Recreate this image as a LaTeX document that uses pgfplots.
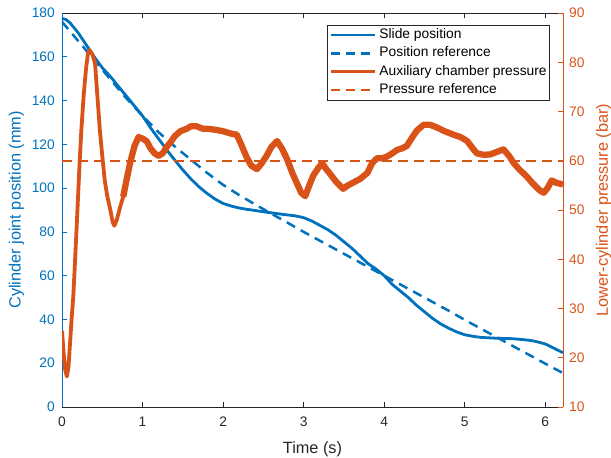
\documentclass[border=0pt]{standalone}
\usepackage{pgfplots}
\pgfplotsset{compat=1.18}
\usepackage{fontspec}
\setmainfont{Liberation Sans}
\definecolor{matblue}{RGB}{0,114,189}
\definecolor{matorange}{RGB}{217,83,25}
\definecolor{axgray}{RGB}{38,38,38}
\newcommand\ticfont{\fontsize{13.8bp}{16bp}\selectfont}
\newcommand\labfont{\fontsize{16.3bp}{19bp}\selectfont}
\begin{document}
\begin{tikzpicture}
\begin{axis}[
  name=ax1, scale only axis, width=501bp, height=394bp,
  xmin=0, xmax=6.22, ymin=0, ymax=180,
  xtick={0,1,2,3,4,5,6}, ytick={0,20,...,180},
  tick align=inside, major tick length=5bp,
  ytick pos=left,
  separate axis lines,
  x axis line style={draw=axgray, line width=0.6bp},
  y axis line style={draw=matblue, line width=0.6bp},
  x tick style={draw=axgray, line width=0.6bp},
  y tick style={draw=matblue, line width=0.6bp},
  xticklabel style={color=axgray, font=\ticfont, inner sep=0pt, anchor=north},
  yticklabel style={color=matblue, font=\ticfont, inner sep=0pt, anchor=east},
  xticklabel shift=10bp, yticklabel shift=7bp,
  /pgf/number format/assume math mode=true,
  xlabel={Time (s)},
  xlabel style={at={(axis description cs:0.5,-0.1168)}, anchor=base, color=axgray, font=\labfont, inner sep=0pt},
  ylabel={Cylinder joint position (mm)},
  ylabel style={at={(axis description cs:-0.0828,0.5)}, anchor=base, color=matblue, font=\labfont, inner sep=0pt},
]
\coordinate (bl) at (rel axis cs:0,0);
\coordinate (tr) at (rel axis cs:1,1);
% Position reference
\addplot[matblue, line width=2.5bp, dash pattern=on 9.5bp off 6.5bp] coordinates {
(0,176) (0.2,167.3) (0.4,158.5) (0.6,149.7) (0.8,141) (1.0,133) (1.2,125.5)
(1.4,119) (1.6,113) (1.8,107) (2.0,101.5) (2.2,96.8) (2.4,92.5) (2.6,88.3)
(2.8,84.2) (3.0,80) (3.2,76) (3.4,72) (3.6,68) (3.8,64) (4.0,60) (4.2,56)
(4.4,52) (4.6,48) (4.8,44) (5.0,39.8) (5.2,35.8) (5.4,31.8) (5.6,27.8)
(5.8,23.8) (6.0,19.8) (6.22,15.5)};
% Slide position
\addplot[matblue, line width=2.8bp, line join=round] coordinates {
(0,177.5) (0.05,177) (0.1,175.5) (0.2,171) (0.3,165.5) (0.4,160) (0.5,155)
(0.6,151) (0.7,146.5) (0.8,142) (0.9,137.5) (1.0,133) (1.1,127.5) (1.2,122.5)
(1.3,117.5) (1.4,112.8) (1.5,108.3) (1.6,104.2) (1.7,100.6) (1.8,97.6) (1.9,95)
(2.0,93) (2.1,91.8) (2.2,90.9) (2.3,90.3) (2.5,89.2) (2.7,88.2) (2.9,87.3) (3.0,86.5)
(3.1,85) (3.2,83) (3.3,81) (3.4,78.5) (3.5,75.5) (3.6,72.5) (3.7,69)
(3.8,65.5) (3.9,63) (4.0,60) (4.1,56) (4.2,53) (4.3,50) (4.4,46.5)
(4.5,43.5) (4.6,40.5) (4.7,38) (4.8,36) (4.9,34.3) (5.0,33) (5.1,32.3)
(5.2,31.8) (5.4,31.4) (5.6,31.2) (5.8,30.5) (5.9,29.8) (6.0,28.8) (6.1,27)
(6.22,24.8)};
\end{axis}
\begin{axis}[
  scale only axis, width=501bp, height=394bp,
  xmin=0, xmax=6.22, ymin=10, ymax=90,
  ytick={10,20,...,90},
  axis x line=none, axis y line*=right,
  tick align=inside, major tick length=5bp,
  y axis line style={draw=matorange, line width=0.6bp},
  y tick style={draw=matorange, line width=0.6bp},
  yticklabel style={color=matorange, font=\ticfont, inner sep=0pt, anchor=west},
  yticklabel shift=6bp,
  /pgf/number format/assume math mode=true,
  ylabel={Lower-cylinder pressure (bar)},
  ylabel style={at={(axis description cs:1.0898,0.5)}, anchor=base, color=matorange, font=\labfont, inner sep=0pt},
  legend style={at={(axis description cs:0.974,0.9703)}, anchor=north east,
    draw=axgray, line width=0.6bp, fill=white, font=\ticfont,
    inner xsep=3bp, inner ysep=4bp, row sep=5.5bp, column sep=3.5bp,
    nodes={inner sep=0pt, text height=9.8bp, text depth=2.8bp, anchor=west}},
  legend cell align=left,
  legend image code/.code={\draw[#1] (0bp,0bp) -- (43.5bp,0bp);},
]
\addlegendimage{matblue, line width=2.2bp}
\addlegendentry{Slide position}
\addlegendimage{matblue, line width=2.2bp, dash pattern=on 9bp off 6bp}
\addlegendentry{Position reference}
\addlegendimage{matorange, line width=2.2bp}
\addlegendentry{Auxiliary chamber pressure}
\addlegendimage{matorange, line width=2.2bp, dash pattern=on 9bp off 6bp}
\addlegendentry{Pressure reference}
% Pressure reference
\addplot[matorange, line width=2.5bp, dash pattern=on 9.5bp off 6.5bp, forget plot] coordinates {(0,60) (6.22,60)};
% Auxiliary chamber pressure (early part)
\addplot[matorange, line width=3.8bp, line join=round, forget plot] coordinates {
(0,25.5) (0.02,21) (0.04,17.5) (0.06,16.2) (0.08,18) (0.10,23) (0.12,28)
(0.14,32.4) (0.16,39) (0.18,45.9) (0.20,53) (0.22,60) (0.24,66.2) (0.27,73.5)
(0.30,79) (0.32,81.5) (0.34,82.5) (0.36,82) (0.38,81.5) (0.41,79.8) (0.44,73)
(0.47,66.2) (0.50,61) (0.53,56.1) (0.56,53) (0.60,50) (0.63,47.5) (0.65,46.8)
(0.68,48) (0.72,50.5) (0.76,52.7) (0.80,56) (0.845,59.5)};
% Auxiliary chamber pressure (later part)
\addplot[matorange, line width=6.3bp, forget plot, line join=round] coordinates {
(0.76,52.7) (0.80,56) (0.845,59.5) (0.90,63) (0.95,64.8) (1.00,64.5) (1.05,64)
(1.10,62.5) (1.15,61.5) (1.20,61) (1.25,61.5) (1.30,62.8) (1.35,63.8) (1.40,65)
(1.47,66) (1.55,66.5) (1.60,67) (1.67,67) (1.75,66.5) (1.80,66.5) (1.90,66.3)
(2.00,66) (2.10,65.5) (2.17,65.3) (2.22,63.5) (2.29,60.8) (2.35,59) (2.42,58.3)
(2.48,59.5) (2.54,61) (2.60,62.8) (2.67,64) (2.73,62.5) (2.79,60.5) (2.86,57.5)
(2.92,55.3) (2.97,53.5) (3.02,52.8) (3.07,55) (3.12,57) (3.18,58.5) (3.23,59.5)
(3.28,58.3) (3.33,57.3) (3.40,55.8) (3.49,54.3) (3.55,55) (3.62,55.6) (3.70,56.3)
(3.79,57.5) (3.85,59.5) (3.91,60.5) (3.97,60.5) (4.03,60.8) (4.10,61.5) (4.16,62.2)
(4.22,62.5) (4.28,63) (4.35,64.8) (4.41,66.2) (4.49,67.3) (4.57,67.3) (4.65,66.8)
(4.75,66) (4.86,65.3) (4.95,64.8) (5.03,64) (5.10,62.5) (5.15,61.5) (5.24,61.2)
(5.32,61.3) (5.40,61.8) (5.48,62.3) (5.55,61) (5.61,59.5) (5.68,58.2) (5.77,56.8)
(5.85,55.3) (5.93,54) (5.98,53.5) (6.03,54.5) (6.08,56) (6.14,55.5) (6.22,55.2)};
\end{axis}
\pgfresetboundingbox
\path[use as bounding box] ([shift={(-62bp,-51bp)}]bl) rectangle ([shift={(48bp,13bp)}]tr);
\end{tikzpicture}
\end{document}
